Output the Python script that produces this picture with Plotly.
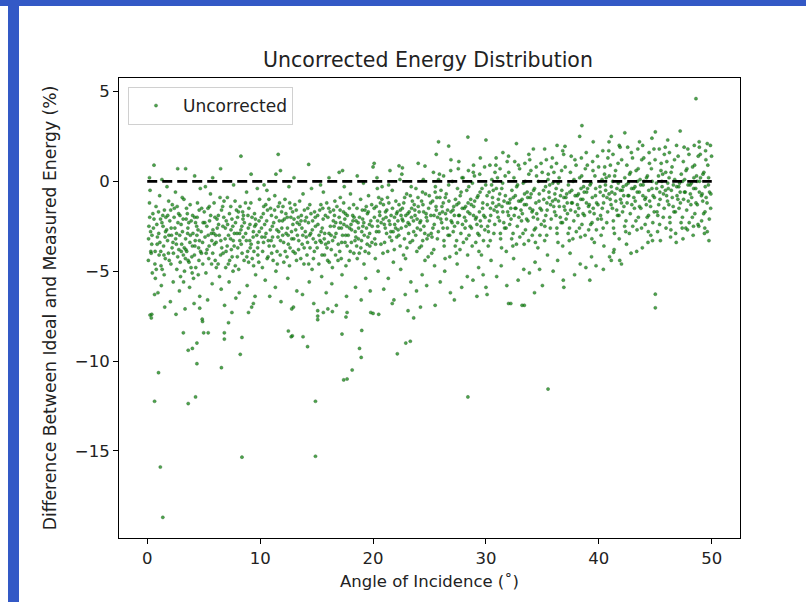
import plotly.graph_objects as go

# ---------------- data ----------------
# (angle of incidence in degrees, difference in %) per 5-degree band
pts_00_05 = [(0.2,-1.2),(0.4,-3.5),(0.1,-4.4),(0.6,-2.1),(0.8,-4.9),(0.3,-2.8),(1.0,-1.7),(1.2,-3.9),(0.9,-3.1),(1.4,-2.5),
             (1.6,-4.3),(1.1,-0.8),(1.8,-3.3),(2.0,-2.2),(1.5,-5.2),(2.2,-3.7),(2.4,-1.5),(2.1,-4.6),(2.6,-2.9),(2.8,-3.8),
             (2.5,-0.6),(3.0,-2.4),(3.2,-4.1),(2.9,-1.9),(3.4,-3.2),(3.6,-2.6),(3.3,-5.0),(3.8,-1.3),(4.0,-3.6),(3.7,-4.5),
             (4.2,-2.0),(4.4,-3.0),(4.1,-5.4),(4.6,-1.6),(4.8,-4.0),(4.5,-2.7),(4.9,-3.4),(0.5,-1.8),(0.7,-3.9),(1.3,-2.3),
             (1.9,-1.1),(2.3,-5.6),(2.7,-4.2),(3.1,-0.9),(3.5,-3.9),(3.9,-2.2),(4.3,-4.8),(4.7,-0.4),(0.15,-2.5),(0.45,-5.1),
             (1.05,-4.1),(1.65,-2.0),(2.15,-3.0),(2.65,-1.4),(3.05,-3.5),(3.55,-1.8),(4.05,-2.9),(4.55,-3.7),(0.35,-4.0),(0.85,-2.4),
             (1.45,-3.6),(1.95,-4.4),(2.45,-2.6),(2.95,-5.3),(3.45,-2.1),(3.95,-4.2),(4.45,-1.2),(4.95,-2.3),(0.25,-0.5),(1.75,-0.3),
             (3.25,-1.0),(4.25,-3.3),(1.25,-5.8),(2.85,-6.1),(0.65,-6.3),(3.75,-5.9),(4.65,-6.4),(2.05,-6.7),(1.55,-7.0),(0.95,-6.2),
             (3.35,-7.1),(4.15,-6.8),(2.55,-7.4),(0.4,-7.4),(4.9,-7.8),(0.6,0.9),(2.7,0.7),(3.4,0.7),(0.2,0.2),(1.3,0.1),(4.2,0.3),
             (0.25,-7.44),(0.36,-7.6),(1.0,-10.65),(0.65,-12.24),(1.16,-15.9),(1.38,-18.7),(3.2,-8.43),(3.63,-9.4),(4.0,-9.3),
             (4.4,-9.0),(4.4,-10.15),(3.63,-12.37),(4.28,-12.0),(4.65,-7.06),(4.87,-7.67)]
more_00_05 = [(0.12,-3.2),(0.55,-2.6),(0.78,-1.4),(1.02,-2.9),(1.22,-4.7),(1.38,-1.9),(1.58,-3.1),(1.72,-2.7),(1.88,-4.0),(2.08,-1.6),
              (2.28,-3.4),(2.38,-2.0),(2.58,-3.5),(2.72,-2.3),(2.92,-4.5),(3.12,-2.8),(3.28,-3.7),(3.48,-1.5),(3.62,-4.4),(3.82,-3.0),
              (4.02,-1.9),(4.18,-4.1),(4.38,-2.5),(4.58,-4.4),(4.78,-2.8),(4.92,-4.6),(0.32,-3.9),(0.68,-4.6),(0.88,-3.5),(1.18,-2.1),
              (1.48,-4.1),(1.62,-2.8),(1.82,-1.9),(2.12,-2.6),(2.32,-4.0),(2.52,-3.2),(2.78,-1.8),(3.02,-3.9),(3.18,-2.1),(3.38,-4.3),
              (3.58,-2.9),(3.78,-3.4),(3.98,-5.1),(4.22,-3.6),(4.42,-2.0),(4.62,-3.3),(4.82,-1.5),(0.22,-2.0),(0.42,-3.0),(0.72,-5.4),
              (1.12,-3.4),(1.32,-4.9),(1.52,-1.6),(1.92,-3.0),(2.22,-1.3),(2.62,-4.9),(2.88,-3.0),(3.22,-5.6),(3.42,-3.8),(3.68,-2.3),
              (3.88,-4.8),(4.28,-2.3),(4.52,-5.2),(4.72,-3.9)]

pts_05_10 = [(5.1,-2.3),(5.3,-3.8),(5.5,-1.4),(5.7,-4.6),(5.9,-2.9),(6.1,-3.4),(6.3,-1.9),(6.5,-4.1),(6.7,-2.5),(6.9,-3.2),
             (7.1,-0.9),(7.3,-4.4),(7.5,-2.1),(7.7,-3.6),(7.9,-1.6),(8.1,-4.9),(8.3,-2.7),(8.5,-3.1),(8.7,-1.2),(8.9,-3.9),
             (9.1,-2.4),(9.3,-4.3),(9.5,-1.8),(9.7,-3.0),(9.9,-2.2),(5.2,-5.1),(5.6,-0.7),(6.0,-2.0),(6.4,-5.3),(6.8,-1.1),
             (7.2,-3.0),(7.6,-5.0),(8.0,-2.0),(8.4,-4.0),(8.8,-0.6),(9.2,-3.5),(9.6,-5.2),(5.4,-3.0),(5.8,-4.0),(6.2,-2.6),
             (6.6,-3.7),(7.0,-2.2),(7.4,-1.4),(7.8,-4.7),(8.2,-3.3),(8.6,-2.3),(9.0,-1.5),(9.4,-2.8),(9.8,-4.1),(5.05,-1.7),
             (5.45,-4.3),(5.95,-3.5),(6.45,-0.9),(6.95,-4.8),(7.45,-3.8),(7.95,-2.9),(8.45,-1.7),(8.95,-2.6),(9.45,-3.9),(9.95,-1.0),
             (5.75,-5.7),(6.55,-6.0),(7.25,-5.6),(8.15,-6.2),(8.85,-5.8),(9.55,-6.4),(5.35,-6.6),(6.85,-6.9),(7.85,-6.5),(9.25,-7.0),
             (5.15,-0.3),(7.65,-0.2),(9.75,-0.4),(6.5,0.7),(8.3,1.4),(9.2,0.4),(5.8,0.2),
             (5.0,-8.43),(5.4,-8.43),(6.57,-10.37),(6.83,-8.43),(6.83,-8.78),(7.2,-7.87),(7.5,-7.3),(8.24,-9.63),(8.39,-8.69),
             (8.39,-15.35),(8.97,-7.3),(9.4,-6.8)]
more_05_10 = [(5.12,-3.1),(5.28,-2.5),(5.48,-3.6),(5.62,-1.9),(5.82,-2.7),(6.02,-4.4),(6.18,-2.1),(6.38,-3.0),(6.58,-1.6),(6.72,-4.0),
              (6.92,-2.6),(7.08,-3.6),(7.28,-1.8),(7.42,-2.7),(7.62,-3.3),(7.82,-2.3),(8.02,-3.7),(8.22,-1.4),(8.38,-2.5),(8.58,-4.4),
              (8.72,-2.9),(8.92,-1.9),(9.08,-3.3),(9.28,-2.0),(9.42,-4.7),(9.62,-2.4),(9.82,-3.4),(5.22,-4.0),(5.52,-2.2),(5.72,-3.3),
              (5.92,-1.2),(6.12,-4.8),(6.32,-2.4),(6.52,-3.3),(6.78,-2.0),(6.98,-3.9),(7.18,-4.6),(7.38,-3.2),(7.58,-2.5),(7.78,-1.1),
              (7.98,-4.2),(8.18,-2.9),(8.32,-3.5),(8.52,-1.9),(8.78,-3.3),(8.98,-4.5),(9.18,-1.2),(9.38,-3.1),(9.58,-2.1),(9.78,-3.7),
              (9.92,-2.8),(5.38,-1.5),(5.68,-2.9),(6.08,-3.0),(6.28,-4.6),(6.68,-1.4),(7.12,-2.4),(7.52,-4.2),(7.72,-2.9),(8.08,-1.7),
              (8.48,-2.1),(8.82,-4.2),(9.12,-3.7),(9.52,-2.5),(9.88,-4.5)]

pts_10_15 = [(10.1,-2.0),(10.3,-3.4),(10.5,-1.3),(10.7,-4.2),(10.9,-2.7),(11.1,-3.1),(11.3,-0.8),(11.5,-3.9),(11.7,-2.2),(11.9,-1.7),
             (12.1,-4.5),(12.3,-2.9),(12.5,-3.5),(12.7,-1.5),(12.9,-2.4),(13.1,-4.0),(13.3,-3.0),(13.5,-1.1),(13.7,-2.6),(13.9,-3.7),
             (14.1,-2.0),(14.3,-4.6),(14.5,-1.8),(14.7,-3.2),(14.9,-2.5),(10.2,-4.8),(10.6,-0.5),(11.0,-1.9),(11.4,-5.0),(11.8,-3.3),
             (12.2,-1.0),(12.6,-4.7),(13.0,-2.1),(13.4,-3.8),(13.8,-0.7),(14.2,-3.4),(14.6,-4.9),(10.4,-2.4),(10.8,-3.6),(11.2,-2.3),
             (11.6,-1.4),(12.0,-3.0),(12.4,-2.0),(12.8,-3.2),(13.2,-1.6),(13.6,-4.3),(14.0,-2.8),(14.4,-1.3),(14.8,-3.9),(10.15,-3.1),
             (10.65,-1.6),(11.15,-4.4),(11.65,-2.8),(12.15,-2.1),(12.65,-3.7),(13.15,-2.7),(13.65,-1.9),(14.15,-4.1),(14.65,-2.2),
             (10.45,-5.5),(11.35,-5.9),(12.45,-5.4),(13.25,-6.1),(14.35,-5.6),(10.85,-6.4),(11.85,-6.7),(13.75,-6.3),(14.75,-6.8),
             (12.95,-7.0),(10.35,-0.2),(12.55,-0.3),(14.55,-0.4),(11.6,1.5),(14.3,0.94),(11.4,0.4),(11.8,0.6),(13.0,0.2),
             (12.5,-8.33),(12.75,-8.65),(12.85,-8.6),(12.8,-7.1),(13.8,-8.65),(14.2,-9.2),(14.9,-12.24),(14.9,-15.3)]
more_10_15 = [(10.12,-2.6),(10.28,-1.8),(10.42,-3.1),(10.58,-2.2),(10.72,-3.3),(10.92,-1.5),(11.08,-2.5),(11.22,-3.6),(11.42,-2.0),
              (11.58,-3.1),(11.72,-1.2),(11.92,-2.6),(12.08,-3.4),(12.28,-1.8),(12.42,-2.6),(12.62,-1.2),(12.78,-2.8),(12.92,-3.9),
              (13.08,-1.3),(13.28,-2.3),(13.42,-3.3),(13.62,-2.2),(13.78,-3.0),(13.92,-1.6),(14.08,-3.1),(14.28,-2.3),(14.42,-3.7),
              (14.62,-2.7),(14.82,-1.7),(14.92,-3.4),(10.22,-3.9),(10.52,-2.9),(10.78,-1.0),(11.02,-4.0),(11.28,-1.6),(11.48,-2.7),
              (11.78,-4.1),(12.02,-1.4),(12.22,-3.9),(12.48,-3.0),(12.72,-2.0),(12.98,-3.2),(13.22,-4.4),(13.48,-2.4),(13.72,-3.5),
              (13.98,-2.2),(14.22,-1.5),(14.48,-2.9),(14.72,-4.3),(10.32,-1.4),(10.62,-4.3),(10.98,-3.3),(11.52,-4.6),(11.98,-2.2),
              (12.38,-4.2),(12.88,-1.7),(13.38,-2.0),(13.88,-4.6),(14.38,-3.0),(14.88,-2.0)]

pts_15_20 = [(15.1,-1.9),(15.3,-3.3),(15.5,-2.6),(15.7,-4.1),(15.9,-1.2),(16.1,-2.9),(16.3,-3.8),(16.5,-1.6),(16.7,-2.3),(16.9,-4.4),
             (17.1,-0.9),(17.3,-3.0),(17.5,-2.1),(17.7,-3.6),(17.9,-1.5),(18.1,-2.7),(18.3,-4.0),(18.5,-2.2),(18.7,-3.2),(18.9,-1.0),
             (19.1,-2.5),(19.3,-3.9),(19.5,-1.8),(19.7,-2.9),(19.9,-3.4),(15.2,-4.6),(15.6,-0.6),(16.0,-2.0),(16.4,-4.8),(16.8,-1.4),
             (17.2,-2.6),(17.6,-4.7),(18.0,-0.7),(18.4,-3.3),(18.8,-2.0),(19.2,-4.6),(19.6,-0.8),(15.4,-2.8),(15.8,-3.5),(16.2,-1.7),
             (16.6,-3.1),(17.0,-2.0),(17.4,-1.2),(17.8,-3.0),(18.2,-1.9),(18.6,-4.3),(19.0,-2.8),(19.4,-1.4),(19.8,-2.2),(15.05,-3.7),
             (15.55,-1.5),(16.05,-3.4),(16.55,-2.5),(17.05,-3.9),(17.55,-1.8),(18.05,-2.4),(18.55,-3.6),(19.05,-1.6),(19.55,-3.1),
             (15.45,-5.3),(16.35,-5.7),(17.25,-5.2),(18.45,-5.9),(19.35,-5.4),(15.85,-6.2),(17.65,-6.4),(18.95,-6.6),(16.75,-6.9),
             (19.75,-6.1),(15.35,-0.2),(17.45,-0.3),(19.15,-0.1),(17.0,0.5),(17.3,0.6),(16.1,0.2),(18.6,0.3),(20.0,0.8),
             (15.1,-7.2),(15.1,-7.5),(15.1,-7.7),(15.6,-7.3),(16.0,-7.1),(16.4,-7.25),(17.25,-8.5),(17.7,-7.3),(17.6,-7.55),
             (17.4,-11.05),(17.7,-11.0),(18.15,-10.5),(18.8,-9.3),(18.95,-9.8),(19.0,-8.3),(19.8,-7.3),(20.0,-7.35)]
more_15_20 = [(15.12,-2.4),(15.28,-1.6),(15.42,-3.4),(15.58,-2.1),(15.72,-2.9),(15.92,-3.7),(16.08,-1.5),(16.22,-2.5),(16.42,-3.3),
              (16.58,-1.9),(16.72,-2.9),(16.92,-3.5),(17.08,-1.6),(17.22,-3.4),(17.42,-2.4),(17.58,-3.0),(17.72,-1.9),(17.92,-2.6),
              (18.08,-3.4),(18.22,-2.2),(18.42,-2.8),(18.58,-1.5),(18.72,-2.6),(18.92,-3.7),(19.08,-2.1),(19.22,-3.0),(19.42,-2.6),
              (19.58,-1.7),(19.72,-3.6),(19.92,-2.5),(15.22,-3.0),(15.48,-4.1),(15.78,-1.9),(15.98,-4.4),(16.28,-3.0),(16.48,-2.2),
              (16.68,-4.1),(16.98,-2.6),(17.18,-4.3),(17.38,-1.7),(17.68,-2.5),(17.98,-3.9),(18.28,-1.3),(18.48,-3.1),(18.68,-2.3),
              (18.98,-3.3),(19.28,-1.6),(19.48,-3.5),(19.68,-2.4),(19.88,-1.3),(15.38,-1.3),(15.68,-3.2),(16.12,-4.5),(16.62,-1.1),
              (17.12,-2.3),(17.52,-3.4),(17.88,-4.4),(18.32,-2.0),(18.78,-4.0),(19.18,-2.3),(19.62,-4.0)]

pts_20_25 = [(20.1,-1.5),(20.3,-2.8),(20.5,-0.9),(20.7,-3.5),(20.9,-2.1),(21.1,-1.7),(21.3,-3.9),(21.5,-2.4),(21.7,-0.5),(21.9,-2.0),
             (22.1,-3.1),(22.3,-1.3),(22.5,-2.6),(22.7,-4.1),(22.9,-1.9),(23.1,-2.3),(23.3,-0.8),(23.5,-3.3),(23.7,-1.6),(23.9,-2.1),
             (24.1,-3.7),(24.3,-1.1),(24.5,-2.5),(24.7,-1.8),(24.9,-3.0),(20.2,-4.3),(20.6,-1.9),(21.0,-2.4),(21.4,-1.2),(21.8,-4.5),
             (22.2,-2.2),(22.6,-1.5),(23.0,-3.7),(23.4,-2.0),(23.8,-0.4),(24.2,-2.7),(24.6,-4.4),(20.4,-2.2),(20.8,-0.3),(21.2,-2.9),
             (21.6,-1.9),(22.0,-2.6),(22.4,-3.6),(22.8,-0.9),(23.2,-1.7),(23.6,-2.8),(24.0,-1.4),(24.4,-3.3),(24.8,-2.2),(20.15,-3.2),
             (20.65,-1.2),(21.15,-2.0),(21.65,-3.3),(22.15,-1.7),(22.65,-2.2),(23.15,-2.9),(23.65,-1.3),(24.15,-2.3),(24.65,-0.7),
             (20.45,-5.0),(21.35,-5.4),(22.45,-4.9),(23.35,-5.6),(24.35,-5.2),(20.95,-6.0),(22.85,-6.3),(23.85,-6.1),(21.85,-6.6),
             (24.75,-5.8),(20.35,0.2),(22.55,0.4),(24.45,0.1),(20.1,1.0),(22.3,0.86),(22.6,0.75),(24.0,1.0),(24.6,0.85),(21.5,0.6),
             (21.7,-6.8),(22.15,-9.6),(22.9,-9.0),(23.3,-8.9),(23.1,-7.2),(23.6,-7.6),(20.5,-7.4),(24.2,-7.0)]
more_20_25 = [(20.12,-2.0),(20.28,-1.4),(20.42,-2.5),(20.58,-1.7),(20.72,-2.3),(20.92,-1.3),(21.08,-2.6),(21.22,-1.6),(21.42,-2.2),
              (21.58,-2.8),(21.72,-1.5),(21.92,-2.4),(22.08,-1.8),(22.22,-2.7),(22.42,-1.6),(22.58,-2.1),(22.72,-1.2),(22.92,-2.5),
              (23.08,-1.8),(23.22,-2.4),(23.42,-1.5),(23.58,-2.2),(23.72,-1.9),(23.92,-2.6),(24.08,-1.7),(24.22,-2.2),(24.42,-1.3),
              (24.58,-2.9),(24.72,-2.0),(24.92,-1.5),(20.22,-3.5),(20.52,-2.8),(20.78,-1.0),(21.02,-3.4),(21.28,-0.9),(21.48,-3.1),
              (21.78,-2.8),(22.02,-1.1),(22.28,-3.0),(22.48,-1.9),(22.78,-3.2),(22.98,-0.7),(23.28,-3.4),(23.48,-1.1),(23.78,-3.0),
              (23.98,-0.9),(24.28,-3.6),(24.48,-1.7),(24.78,-3.2),(24.98,-0.8),(20.38,-0.4),(20.88,-4.0),(21.38,-0.2),(21.88,-3.8),
              (22.38,0.1),(22.88,-4.3),(23.38,-0.3),(23.88,-3.9),(24.38,-0.6),(24.88,-4.2)]

pts_25_30 = [(25.1,-1.2),(25.3,-2.6),(25.5,-0.6),(25.7,-3.2),(25.9,-1.8),(26.1,-1.4),(26.3,-3.6),(26.5,-2.1),(26.7,-0.2),(26.9,-1.7),
             (27.1,-2.8),(27.3,-1.0),(27.5,-2.3),(27.7,-3.8),(27.9,-1.5),(28.1,-2.0),(28.3,-0.5),(28.5,-3.0),(28.7,-1.3),(28.9,-1.9),
             (29.1,-3.4),(29.3,-0.8),(29.5,-2.2),(29.7,-1.5),(29.9,-2.7),(25.2,-4.0),(25.6,-1.6),(26.0,-2.1),(26.4,-0.9),(26.8,-4.2),
             (27.2,-1.9),(27.6,-1.2),(28.0,-3.4),(28.4,-1.7),(28.8,-0.1),(29.2,-2.4),(29.6,-4.1),(25.4,-1.9),(25.8,0.1),(26.2,-2.6),
             (26.6,-1.6),(27.0,-2.3),(27.4,-3.3),(27.8,-0.6),(28.2,-1.4),(28.6,-2.5),(29.0,-1.1),(29.4,-3.0),(29.8,-1.9),(25.15,-2.9),
             (25.65,-0.9),(26.15,-1.7),(26.65,-3.0),(27.15,-1.4),(27.65,-1.9),(28.15,-2.6),(28.65,-1.0),(29.15,-2.0),(29.65,-0.4),
             (25.45,-4.7),(26.35,-5.0),(27.45,-4.6),(28.35,-5.3),(29.35,-4.8),(25.95,-5.6),(27.85,-5.9),(28.85,-5.5),(26.85,-6.2),
             (29.75,-5.2),(25.35,0.5),(27.55,0.7),(29.45,0.4),(26.25,0.3),(28.45,0.6),(28.4,2.46),(25.8,2.2),(26.7,1.96),(25.6,1.5),
             (27.6,1.1),(29.5,1.3),(26.9,1.2),(28.9,0.9),(28.4,-12.0),(25.5,-6.9),(27.2,-6.6),(29.2,-6.4)]
more_25_30 = [(25.12,-1.9),(25.28,-1.1),(25.42,-2.4),(25.58,-1.4),(25.72,-2.0),(25.92,-0.9),(26.08,-2.3),(26.22,-1.2),(26.42,-1.8),
              (26.58,-2.6),(26.72,-1.1),(26.92,-2.2),(27.08,-1.6),(27.22,-2.5),(27.42,-1.3),(27.58,-1.9),(27.72,-0.8),(27.92,-2.4),
              (28.08,-1.5),(28.22,-2.2),(28.42,-1.2),(28.58,-1.8),(28.72,-2.6),(28.92,-1.4),(29.08,-2.1),(29.22,-0.9),(29.42,-1.7),
              (29.58,-2.5),(29.72,-1.2),(29.92,-2.0),(25.22,-3.1),(25.52,-0.3),(25.78,-2.8),(26.02,-0.5),(26.28,-3.3),(26.48,-0.7),
              (26.78,-3.0),(27.02,0.0),(27.28,-3.6),(27.48,-0.4),(27.78,-2.9),(27.98,0.2),(28.28,-3.2),(28.48,-0.3),(28.78,-3.6),
              (28.98,0.3),(29.28,-2.9),(29.48,-0.6),(29.78,-3.3),(29.98,-0.2),(25.38,-3.8),(25.88,0.4),(26.38,-4.3),(26.88,0.6),
              (27.38,-4.0),(27.88,0.2),(28.38,-4.1),(28.88,0.5),(29.38,-3.9),(29.88,0.8)]

pts_30_35 = [(30.1,-0.8),(30.3,-2.2),(30.5,-0.2),(30.7,-2.9),(30.9,-1.4),(31.1,-1.0),(31.3,-3.2),(31.5,-1.7),(31.7,0.3),(31.9,-1.2),
             (32.1,-2.4),(32.3,-0.5),(32.5,-1.9),(32.7,-3.5),(32.9,-1.1),(33.1,-1.6),(33.3,-0.1),(33.5,-2.7),(33.7,-0.9),(33.9,-1.5),
             (34.1,-3.0),(34.3,-0.4),(34.5,-1.8),(34.7,-1.1),(34.9,-2.4),(30.2,-3.6),(30.6,-1.2),(31.0,-1.7),(31.4,-0.4),(31.8,-3.9),
             (32.2,-1.5),(32.6,-0.8),(33.0,-3.1),(33.4,-1.3),(33.8,0.4),(34.2,-2.0),(34.6,-3.7),(30.4,-1.5),(30.8,0.5),(31.2,-2.2),
             (31.6,-1.1),(32.0,-1.9),(32.4,-2.9),(32.8,-0.2),(33.2,-1.0),(33.6,-2.1),(34.0,-0.7),(34.4,-2.6),(34.8,-1.5),(30.15,-2.5),
             (30.65,-0.5),(31.15,-1.3),(31.65,-2.6),(32.15,-1.0),(32.65,-1.5),(33.15,-2.2),(33.65,-0.6),(34.15,-1.6),(34.65,0.0),
             (30.45,-4.4),(31.35,-4.7),(32.45,-4.3),(33.35,-4.9),(34.35,-4.5),(30.95,-5.3),(32.85,-5.5),(33.85,-5.1),(31.85,-5.8),
             (34.75,-4.9),(30.35,0.9),(32.55,1.1),(34.45,0.8),(31.25,0.7),(33.45,1.0),(30.0,2.3),(32.7,2.1),(31.5,1.6),(33.8,1.5),
             (30.9,1.3),(34.2,1.8),(32.0,1.4),(30.0,-5.9),(30.1,-6.3),(34.3,-6.2),(32.0,-6.8),(33.2,-6.9),(32.2,-6.8),(33.4,-6.9)]
more_30_35 = [(30.12,-1.3),(30.28,-0.6),(30.42,-1.9),(30.58,-0.9),(30.72,-1.6),(30.92,-0.4),(31.08,-2.0),(31.22,-0.7),(31.42,-1.4),
              (31.58,-2.3),(31.72,-0.8),(31.92,-1.7),(32.08,-1.2),(32.22,-2.1),(32.42,-0.9),(32.58,-1.5),(32.72,-0.3),(32.92,-2.0),
              (33.08,-1.1),(33.22,-1.8),(33.42,-0.7),(33.58,-1.3),(33.72,-2.2),(33.92,-0.9),(34.08,-1.7),(34.22,-0.5),(34.42,-1.2),
              (34.58,-2.1),(34.72,-0.7),(34.92,-1.6),(30.22,-2.8),(30.52,0.1),(30.78,-2.4),(31.02,0.2),(31.28,-2.9),(31.48,-0.1),
              (31.78,-2.6),(32.02,0.5),(32.28,-3.2),(32.48,0.2),(32.78,-2.5),(32.98,0.7),(33.28,-2.9),(33.48,0.0),(33.78,-3.3),
              (33.98,0.6),(34.28,-2.7),(34.48,0.3),(34.78,-3.0),(34.98,0.5),(30.38,-3.3),(30.88,0.9),(31.38,-3.7),(31.88,1.1),
              (32.38,-3.6),(32.88,0.9),(33.38,-3.5),(33.88,1.2),(34.38,-3.4),(34.88,1.0)]

pts_35_40 = [(35.1,-0.5),(35.3,-1.9),(35.5,0.1),(35.7,-2.6),(35.9,-1.1),(36.1,-0.7),(36.3,-2.9),(36.5,-1.4),(36.7,0.6),(36.9,-0.9),
             (37.1,-2.1),(37.3,-0.2),(37.5,-1.6),(37.7,-3.2),(37.9,-0.8),(38.1,-1.3),(38.3,0.2),(38.5,-2.4),(38.7,-0.6),(38.9,-1.2),
             (39.1,-2.7),(39.3,-0.1),(39.5,-1.5),(39.7,-0.8),(39.9,-2.1),(35.2,-3.3),(35.6,-0.9),(36.0,-1.4),(36.4,-0.1),(36.8,-3.6),
             (37.2,-1.2),(37.6,-0.5),(38.0,-2.8),(38.4,-1.0),(38.8,0.7),(39.2,-1.7),(39.6,-3.4),(35.4,-1.2),(35.8,0.8),(36.2,-1.9),
             (36.6,-0.8),(37.0,-1.6),(37.4,-2.6),(37.8,0.1),(38.2,-0.7),(38.6,-1.8),(39.0,-0.4),(39.4,-2.3),(39.8,-1.2),(35.15,-2.2),
             (35.65,-0.2),(36.15,-1.0),(36.65,-2.3),(37.15,-0.7),(37.65,-1.2),(38.15,-1.9),(38.65,-0.3),(39.15,-1.3),(39.65,0.3),
             (35.45,-4.1),(36.35,-4.4),(37.45,-4.0),(38.35,-4.6),(39.35,-4.2),(35.95,-5.0),(37.85,-5.2),(38.85,-4.8),(36.85,-5.5),
             (39.75,-4.7),(35.35,1.2),(37.55,1.4),(39.45,1.1),(36.25,1.0),(38.45,1.3),(38.5,3.1),(38.3,2.5),(36.3,2.0),(37.0,1.95),
             (35.2,1.8),(39.5,2.2),(36.8,1.7),(35.5,-11.56),(35.0,-5.8),(36.9,-5.9),(39.2,-5.5)]
more_35_40 = [(35.12,-1.0),(35.28,-0.3),(35.42,-1.6),(35.58,-0.6),(35.72,-1.3),(35.92,-0.1),(36.08,-1.7),(36.22,-0.4),(36.42,-1.1),
              (36.58,-2.0),(36.72,-0.5),(36.92,-1.4),(37.08,-0.9),(37.22,-1.8),(37.42,-0.6),(37.58,-1.2),(37.72,0.0),(37.92,-1.7),
              (38.08,-0.8),(38.22,-1.5),(38.42,-0.4),(38.58,-1.0),(38.72,-1.9),(38.92,-0.6),(39.08,-1.4),(39.22,-0.2),(39.42,-0.9),
              (39.58,-1.8),(39.72,-0.4),(39.92,-1.3),(35.22,-2.5),(35.52,0.4),(35.78,-2.1),(36.02,0.5),(36.28,-2.6),(36.48,0.2),
              (36.78,-2.3),(37.02,0.8),(37.28,-2.9),(37.48,0.5),(37.78,-2.2),(37.98,0.9),(38.28,-2.6),(38.48,0.3),(38.78,-3.0),
              (38.98,0.9),(39.28,-2.4),(39.48,0.6),(39.78,-2.7),(39.98,0.8),(35.38,-3.0),(35.88,1.3),(36.38,-3.4),(36.88,1.5),
              (37.38,-3.3),(37.88,1.2),(38.38,-3.1),(38.88,1.6),(39.38,-3.2),(39.88,1.4)]

pts_40_45 = [(40.1,-0.3),(40.3,-1.5),(40.5,0.4),(40.7,-2.3),(40.9,-0.7),(41.1,-0.3),(41.3,-2.6),(41.5,-1.1),(41.7,1.0),(41.9,-0.5),
             (42.1,-1.7),(42.3,0.2),(42.5,-1.2),(42.7,-2.9),(42.9,-0.4),(43.1,-0.9),(43.3,0.6),(43.5,-2.0),(43.7,-0.2),(43.9,-0.8),
             (44.1,-2.4),(44.3,0.3),(44.5,-1.1),(44.7,-0.4),(44.9,-1.7),(40.2,-3.0),(40.6,-0.5),(41.0,-1.0),(41.4,0.3),(41.8,-3.2),
             (42.2,-0.8),(42.6,-0.1),(43.0,-2.5),(43.4,-0.6),(43.8,1.2),(44.2,-1.3),(44.6,-3.0),(40.4,-0.8),(40.8,1.3),(41.2,-1.5),
             (41.6,-0.4),(42.0,-1.2),(42.4,-2.2),(42.8,0.5),(43.2,-0.3),(43.6,-1.4),(44.0,0.0),(44.4,-1.9),(44.8,-0.8),(40.15,-1.9),
             (40.65,0.2),(41.15,-0.6),(41.65,-1.9),(42.15,-0.3),(42.65,-0.8),(43.15,-1.5),(43.65,0.1),(44.15,-0.9),(44.65,0.7),
             (40.45,-3.6),(41.35,-3.8),(42.45,-3.5),(43.35,-3.9),(44.35,-3.4),(40.95,-4.2),(42.85,-4.0),(43.85,-3.7),(41.85,-4.4),
             (44.75,-3.3),(40.35,1.7),(42.55,1.9),(44.45,1.6),(41.25,1.5),(43.45,1.8),(41.1,2.5),(40.9,2.2),(44.7,2.4),(42.3,2.7),
             (43.6,2.2),(41.8,2.0),(41.3,-3.95),(41.1,-4.4),(42.0,-4.6),(40.4,-4.9),(45.0,-6.28),(45.0,-7.04)]
more_40_45 = [(40.12,-0.6),(40.28,0.1),(40.42,-1.2),(40.58,-0.2),(40.72,-0.9),(40.92,0.3),(41.08,-1.3),(41.22,0.0),(41.42,-0.7),
              (41.58,-1.6),(41.72,-0.1),(41.92,-1.0),(42.08,-0.5),(42.22,-1.4),(42.42,-0.2),(42.58,-0.8),(42.72,0.4),(42.92,-1.3),
              (43.08,-0.4),(43.22,-1.1),(43.42,0.0),(43.58,-0.6),(43.72,-1.5),(43.92,-0.2),(44.08,-1.0),(44.22,0.2),(44.42,-0.5),
              (44.58,-1.4),(44.72,0.0),(44.92,-0.9),(40.22,-2.1),(40.52,0.8),(40.78,-1.7),(41.02,0.9),(41.28,-2.2),(41.48,0.6),
              (41.78,-1.9),(42.02,1.2),(42.28,-2.5),(42.48,0.9),(42.78,-1.8),(42.98,1.3),(43.28,-2.2),(43.48,0.7),(43.78,-2.6),
              (43.98,1.3),(44.28,-2.0),(44.48,1.0),(44.78,-2.3),(44.98,1.2),(40.38,-2.6),(40.88,1.7),(41.38,-2.9),(41.88,1.9),
              (42.38,-2.8),(42.88,1.6),(43.38,-2.7),(43.88,2.0),(44.38,-2.8),(44.88,1.8)]

pts_45_50 = [(45.1,-0.1),(45.3,-1.3),(45.5,0.6),(45.7,-2.0),(45.9,-0.5),(46.1,-0.1),(46.3,-2.3),(46.5,-0.9),(46.7,1.2),(46.9,-0.3),
             (47.1,-1.5),(47.3,0.4),(47.5,-1.0),(47.7,-2.6),(47.9,-0.2),(48.1,-0.7),(48.3,0.8),(48.5,-1.8),(48.7,0.0),(48.9,-0.6),
             (49.1,-2.2),(49.3,0.5),(49.5,-0.9),(49.7,-0.2),(49.9,-1.5),(45.2,-2.8),(45.6,-0.3),(46.0,-0.8),(46.4,0.5),(46.8,-2.9),
             (47.2,-0.6),(47.6,0.1),(48.0,-2.3),(48.4,-0.4),(48.8,1.4),(49.2,-1.1),(49.6,-2.8),(45.4,-0.6),(45.8,1.5),(46.2,-1.3),
             (46.6,-0.2),(47.0,-1.0),(47.4,-2.0),(47.8,0.7),(48.2,-0.1),(48.6,-1.2),(49.0,0.2),(49.4,-1.7),(49.8,-0.6),(45.15,-1.7),
             (45.65,0.4),(46.15,-0.4),(46.65,-1.7),(47.15,-0.1),(47.65,-0.6),(48.15,-1.3),(48.65,0.3),(49.15,-0.7),(49.65,0.9),
             (45.45,-3.3),(46.35,-3.1),(47.45,-3.2),(48.35,-3.0),(49.35,-2.9),(45.95,-2.6),(47.85,-2.7),(48.85,-2.5),(46.85,-3.4),
             (49.75,-3.3),(45.35,1.8),(47.55,1.9),(49.45,1.7),(46.25,1.6),(48.45,2.0),(48.6,4.6),(45.0,2.75),(47.2,2.8),
             (46.1,2.3),(48.9,1.9),(49.6,2.1)]
more_45_50 = [(45.12,-0.4),(45.28,0.3),(45.42,-1.0),(45.58,0.0),(45.72,-0.7),(45.92,0.5),(46.08,-1.1),(46.22,0.2),(46.42,-0.5),
              (46.58,-1.4),(46.72,0.1),(46.92,-0.8),(47.08,-0.3),(47.22,-1.2),(47.42,0.0),(47.58,-0.6),(47.72,0.6),(47.92,-1.1),
              (48.08,-0.2),(48.22,-0.9),(48.42,0.2),(48.58,-0.4),(48.72,-1.3),(48.92,0.0),(49.08,-0.8),(49.22,0.4),(49.42,-0.3),
              (49.58,-1.2),(49.72,0.2),(49.92,-0.7),(45.22,-1.9),(45.52,1.0),(45.78,-1.5),(46.02,1.1),(46.28,-2.0),(46.48,0.8),
              (46.78,-1.7),(47.02,1.4),(47.28,-2.3),(47.48,1.1),(47.78,-1.6),(47.98,1.5),(48.28,-2.0),(48.48,0.9),(48.78,-2.4),
              (48.98,1.5),(49.28,-1.8),(49.48,1.2),(49.78,-2.1),(49.98,1.4),(45.38,-2.4),(45.88,1.9),(46.38,-2.7),(46.88,2.0),
              (47.38,-2.6),(47.88,1.8),(48.38,-2.5),(48.88,2.2),(49.38,-2.6),(49.88,2.0)]

ideal_angle = [0, 50]
ideal_diff = [0, 0]

x_ticks = [0, 10, 20, 30, 40, 50]
y_ticks = [5, 0, -5, -10, -15]

# ---------------- figure ----------------
bands = [pts_00_05, more_00_05, pts_05_10, more_05_10, pts_10_15, more_10_15,
         pts_15_20, more_15_20, pts_20_25, more_20_25, pts_25_30, more_25_30,
         pts_30_35, more_30_35, pts_35_40, more_35_40, pts_40_45, more_40_45,
         pts_45_50, more_45_50]
angles = [p[0] for b in bands for p in b]
diffs = [p[1] for b in bands for p in b]

W, H = 806, 602
L, R, T, B = 119, 740, 78, 538          # plot area in pixels
PW, PH = R - L, B - T
FONT = "DejaVu Sans"


def px(x):
    return (x - L) / PW


def py(y):
    return (B - y) / PH


fig = go.Figure()
fig.add_trace(go.Scatter(
    x=angles, y=diffs, mode="markers", name="Uncorrected",
    marker=dict(size=3.2, color="rgba(0,128,0,0.7)",
                line=dict(width=0.6, color="rgba(40,90,40,0.6)")),
))
fig.add_trace(go.Scatter(
    x=ideal_angle, y=ideal_diff, mode="lines", showlegend=False,
    line=dict(color="black", width=2.8, dash="10px,5px"),
))

blue = "#3359c6"
shapes = [
    dict(type="rect", xref="paper", yref="paper", x0=px(0), x1=px(W), y0=py(6), y1=py(0),
         fillcolor=blue, line=dict(width=0), layer="above"),
    dict(type="rect", xref="paper", yref="paper", x0=px(8), x1=px(19), y0=py(W), y1=py(0),
         fillcolor=blue, line=dict(width=0), layer="above"),
]

fig.update_layout(
    width=W, height=H,
    margin=dict(l=L, r=W - R, t=T, b=H - B, pad=0),
    paper_bgcolor="white", plot_bgcolor="white",
    font=dict(family=FONT, size=17, color="#222222"),
    title=dict(text="Uncorrected Energy Distribution", x=428 / W,
               xanchor="center", y=1 - 60 / H, yanchor="middle",
               font=dict(size=20.5, family=FONT, color="#222222")),
    showlegend=True,
    legend=dict(x=px(128), y=py(87), xanchor="left", yanchor="top",
                bgcolor="rgba(255,255,255,0.8)", bordercolor="#d0d0d0", borderwidth=1,
                font=dict(size=17, family=FONT), itemsizing="trace", itemwidth=44,
                tracegroupgap=0),
    shapes=shapes,
)
fig.update_xaxes(
    range=[-2.5, 52.5], tickvals=x_ticks, ticks="outside", ticklen=5, tickwidth=1,
    tickcolor="black", showline=True, linecolor="black", linewidth=1, mirror=True,
    showgrid=False, zeroline=False, tickfont=dict(size=16.5),
    title=dict(text="Angle of Incidence (˚)", font=dict(size=16.5), standoff=8),
)
fig.update_yaxes(
    range=[-19.85, 5.75], tickvals=y_ticks, ticks="outside", ticklen=5, tickwidth=1,
    tickcolor="black", showline=True, linecolor="black", linewidth=1, mirror=True,
    showgrid=False, zeroline=False, tickfont=dict(size=16.5),
    title=dict(text="Difference Between Ideal and Measured Energy (%)",
               font=dict(size=17.2), standoff=13),
)

fig.write_html("out.html", config={"displayModeBar": False},
               post_script="document.body.style.margin='0';document.body.style.overflow='hidden';")
